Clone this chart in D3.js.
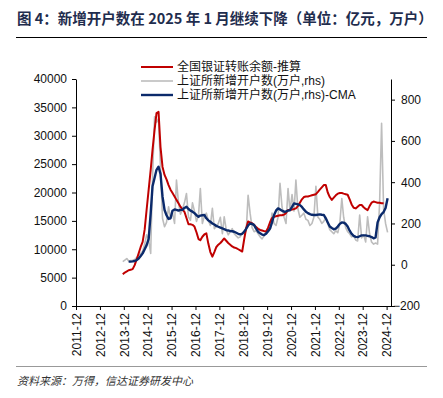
<!DOCTYPE html>
<html>
<head>
<meta charset="utf-8">
<script src="https://cdn.jsdelivr.net/npm/d3@7/dist/d3.min.js"></script>
<style>
  body { margin: 0; background: #fff; }
  svg { display: block; }
  .axis text { font-family: "Liberation Sans", Arial, sans-serif; font-size: 12px; fill: #111; }
  .axis path, .axis line { stroke: #000; }
</style>
</head>
<body>
<svg width="443" height="398"></svg>
<script>
// ---- data ----
var titleText = "图 4：新增开户数在 2025 年 1 月继续下降（单位：亿元，万户）";
var sourceText = "资料来源：万得，信达证券研发中心";
var seriesNames = ["全国银证转账余额-推算", "上证所新增开户数(万户,rhs)", "上证所新增开户数(万户,rhs)-CMA"];
var yearTicks = [2011, 2012, 2013, 2014, 2015, 2016, 2017, 2018, 2019, 2020, 2021, 2022, 2023, 2024];
var leftTicks = [0, 5000, 10000, 15000, 20000, 25000, 30000, 35000, 40000];
var rightTicks = [-200, 0, 200, 400, 600, 800];

// 全国银证转账余额-推算 (亿元), monthly from 2013-12
var balanceStart = "2013-12";
var balance = [5600,
  5900, 6100, 6300, 6400, 6500, 7200, 8200, 9300, 10400, 11300, 13500, 17000,
  20500, 24000, 27500, 31000, 34000, 34200, 28000, 24500, 23100, 22300, 21300, 20500,
  19900, 19300, 18700, 18100, 17500, 17000, 16600, 15500, 14400, 14400, 14300, 14000,
  13000, 11800, 11600, 12200, 12600, 12800, 11000, 9500, 8700, 9500, 10400, 10800,
  11100, 11500, 11900, 11500, 11100, 10800, 10500, 10300, 10200, 10000, 9800, 9600,
  11800, 13800, 14900, 14700, 14600, 14300, 13900, 13600, 13400, 13300, 13200, 13100,
  13800, 14800, 15500, 15700, 15800, 15900, 16000, 16000, 16100, 16400, 16900, 16900,
  17000, 17100, 17200, 17600, 18200, 18800, 19200, 19300, 19300, 19400, 19500, 19600,
  19700, 20100, 20500, 20900, 21300, 21300, 20000, 19200, 18700, 19100, 19500, 19800,
  19900, 19900, 19800, 19700, 19600, 18800, 17900, 17300, 17200, 17500, 17800, 17800,
  17400, 17100, 16900, 17600, 18200, 18400, 18300, 18200, 18200, 18100, 18100];

// 上证所新增开户数 (万户), monthly from 2013-12
var accountsStart = "2013-12";
var accounts = [15,
  22, 30, 18, 20, 22, 25, 35, 45, 55, 65, 100, 145,
  120, 55, 420, 717, 690, 708, 470, 224, 184, 205, 281, 224,
  250, 200, 410, 300, 245, 270, 300, 345, 232, 215, 300, 260,
  210, 240, 369, 200, 235, 250, 215, 190, 273, 175, 185, 200,
  230, 150, 232, 170, 145, 160, 175, 150, 140, 130, 135, 155,
  150, 165, 337, 250, 180, 160, 165, 150, 135, 125, 140, 160,
  165, 170, 250, 200, 190, 230, 394, 280, 230, 200, 369, 260,
  340, 260, 410, 270, 230, 240, 250, 220, 215, 190, 200, 230,
  380, 230, 220, 200, 210, 230, 200, 170, 160, 150, 165, 155,
  200, 321, 230, 180, 160, 150, 135, 140, 120, 115, 241, 130,
  145, 110, 232, 150, 110, 100, 105, 100, 300, 685, 270, 200,
  157];

// 上证所新增开户数-CMA (万户), monthly from 2014-03
var cmaStart = "2014-03";
var cma = [15, 15, 16, 18, 22, 30, 42, 55, 75, 95,
  125, 250, 380, 420, 460, 475, 440, 330, 265, 240, 222, 225,
  262, 268, 266, 262, 266, 266, 275, 281, 270, 262, 257, 250,
  240, 232, 238, 240, 241, 225, 215, 208, 200, 195, 188, 184,
  180, 176, 172, 168, 166, 163, 162, 160, 155, 150, 147, 150,
  160, 175, 190, 200, 198, 192, 175, 160, 152, 146, 144, 150,
  162, 176, 205, 241, 262, 273, 268, 262, 257, 258, 262, 265,
  280, 297, 295, 292, 289, 280, 268, 257, 250, 245, 242, 241,
  241, 243, 244, 242, 241, 225, 205, 185, 178, 172, 175, 185,
  198, 205, 204, 198, 185, 165, 150, 140, 135, 134, 138, 142,
  142, 142, 140, 138, 134, 128, 132, 205, 230, 245, 255, 275,
  322];

// ---- helpers ----
var parseMonth = d3.timeParse("%Y-%m");
function toPoints(startStr, values) {
  var start = parseMonth(startStr);
  return values.map(function(v, i) {
    var d = d3.timeMonth.offset(start, i);
    d.setDate(15);
    return { date: d, value: v };
  });
}

var svg = d3.select("svg"),
  plot = { top: 79, bottom: 306, left: 76, right: 391 };

var x = d3.scaleTime()
  .domain([new Date(2011, 11, 31), new Date(2025, 2, 8)])
  .range([plot.left, plot.right]);
var yL = d3.scaleLinear().domain([0, 40000]).range([plot.bottom, plot.top]);
var yR = d3.scaleLinear().domain([-200, 900]).range([plot.bottom, plot.top]);

// title
svg.append("text")
  .attr("x", 17).attr("y", 24)
  .style("font-family", "'Noto Sans CJK SC', sans-serif")
  .style("font-size", "14.5px")
  .style("font-weight", "bold")
  .style("fill", "#1f2d4e")
  .text(titleText);
svg.append("line")
  .attr("x1", 16).attr("x2", 427).attr("y1", 37.5).attr("y2", 37.5)
  .attr("stroke", "#000").attr("stroke-width", 1);

// axes
var gx = svg.append("g").attr("class", "axis")
  .attr("transform", "translate(0," + plot.bottom + ")")
  .call(d3.axisBottom(x)
    .tickValues(yearTicks.map(function(y) { return new Date(y, 11, 31); }))
    .tickFormat(function(d) { return d.getFullYear() + "-12"; })
    .tickSize(4).tickSizeOuter(0));
gx.selectAll("text")
  .attr("transform", "rotate(-90)")
  .attr("text-anchor", "end")
  .attr("x", -7).attr("y", 0).attr("dy", "0.35em");

svg.append("g").attr("class", "axis")
  .attr("transform", "translate(" + plot.left + ",0)")
  .call(d3.axisLeft(yL).tickValues(leftTicks).tickFormat(d3.format("d")).tickSize(4).tickSizeOuter(0))
  .selectAll("text").attr("x", -9);

var gr = svg.append("g").attr("class", "axis")
  .attr("transform", "translate(" + plot.right + ",0)")
  .call(d3.axisRight(yR).tickValues(rightTicks).tickSize(4).tickSizeOuter(0));
gr.selectAll("text").attr("x", function(d) { return d < 0 ? 2 : 10; });

// lines
var lineL = d3.line().x(function(d) { return x(d.date); }).y(function(d) { return yL(d.value); });
var lineR = d3.line().x(function(d) { return x(d.date); }).y(function(d) { return yR(d.value); });

svg.append("path").datum(toPoints(accountsStart, accounts))
  .attr("fill", "none").attr("stroke", "#bdbdbd").attr("stroke-width", 1.6)
  .attr("stroke-linejoin", "round").attr("d", lineR);
svg.append("path").datum(toPoints(balanceStart, balance))
  .attr("fill", "none").attr("stroke", "#c00000").attr("stroke-width", 2)
  .attr("stroke-linejoin", "round").attr("d", lineL);
svg.append("path").datum(toPoints(cmaStart, cma))
  .attr("fill", "none").attr("stroke", "#0b2a6b").attr("stroke-width", 2.4)
  .attr("stroke-linejoin", "round").attr("d", lineR);

// legend
var legendColors = ["#c00000", "#bdbdbd", "#0b2a6b"],
  legendWidths = [2, 1.6, 2.4];
var lg = svg.append("g");
seriesNames.forEach(function(name, i) {
  var yy = 67 + i * 14;
  lg.append("line").attr("x1", 141).attr("x2", 173).attr("y1", yy).attr("y2", yy)
    .attr("stroke", legendColors[i]).attr("stroke-width", legendWidths[i]);
  lg.append("text").attr("x", 177).attr("y", yy).attr("dy", "0.36em")
    .style("font-family", "'Liberation Sans', 'Noto Sans CJK SC', sans-serif")
    .style("font-size", "12px").style("fill", "#111")
    .text(name);
});

// source
svg.append("line")
  .attr("x1", 16).attr("x2", 427).attr("y1", 366.5).attr("y2", 366.5)
  .attr("stroke", "#999").attr("stroke-width", 1);
svg.append("text")
  .attr("x", 17).attr("y", 385)
  .style("font-family", "'Noto Sans CJK SC', sans-serif")
  .style("font-size", "11px").style("font-style", "italic").style("fill", "#333")
  .text(sourceText);
</script>
</body>
</html>
